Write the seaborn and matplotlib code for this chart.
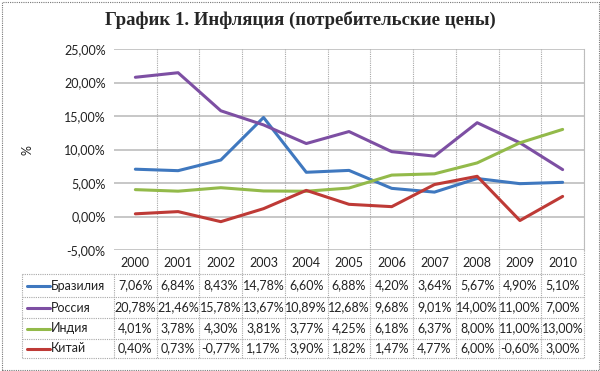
import numpy as np
import pandas as pd
import matplotlib
matplotlib.use("Agg")
import matplotlib.pyplot as plt
import matplotlib.transforms as mtransforms
import seaborn as sns

years = ["2000", "2001", "2002", "2003", "2004", "2005", "2006", "2007", "2008", "2009", "2010"]
countries = ["Бразилия", "Россия", "Индия", "Китай"]
brazil = [7.06, 6.84, 8.43, 14.78, 6.60, 6.88, 4.20, 3.64, 5.67, 4.90, 5.10]
russia = [20.78, 21.46, 15.78, 13.67, 10.89, 12.68, 9.68, 9.01, 14.00, 11.00, 7.00]
india = [4.01, 3.78, 4.30, 3.81, 3.77, 4.25, 6.18, 6.37, 8.00, 11.00, 13.00]
china = [0.40, 0.73, -0.77, 1.17, 3.90, 1.82, 1.47, 4.77, 6.00, -0.60, 3.00]
colors = ["#3F78BF", "#7D4FA3", "#93BA4A", "#BE3A36"]

series = [brazil, russia, india, china]
df = pd.DataFrame({
    "pos": list(range(len(years))) * len(countries),
    "value": [v for s in series for v in s],
    "country": [c for c in countries for _ in years],
})

sns.set_style("white")
plt.rcParams["font.family"] = ["Lato", "DejaVu Sans"]

W, H = 600, 371
fig = plt.figure(figsize=(6, 3.71), dpi=100)
L, R, T, B = 114, 584, 49, 250
ax = fig.add_axes([L / W, 1 - B / H, (R - L) / W, (B - T) / H])

def fmt(v):
    return ("%.2f%%" % v).replace(".", ",")

# grid
for yv in range(-5, 30, 5):
    ax.axhline(yv, color="#BDBDBD", lw=1.2, zorder=0)
for i in range(len(years)):
    ax.axvline(i + 0.5, color="#A8A8A8", lw=0.8, ls=(0, (1, 1)), zorder=0)

sns.lineplot(data=df, x="pos", y="value", hue="country", palette=colors,
             hue_order=countries, lw=2.2, legend=False, ax=ax, zorder=3)

ax.set_xlim(-0.5, len(years) - 0.5)
ax.set_ylim(-5, 25)
ax.set_yticks(range(-5, 30, 5))
ax.set_yticklabels([fmt(v) for v in range(-5, 30, 5)], fontsize=9, color="#222222")
ax.set_xticks([])
ax.set_xlabel("")
ax.set_ylabel("")
ax.tick_params(axis="y", length=0, pad=6)
for sp in ax.spines.values():
    sp.set_visible(False)
ax.spines["right"].set_visible(True)
ax.spines["right"].set_color("#BDBDBD")

def fy(py):
    return 1 - py / H

fig.text(27 / W, fy(150), "%", rotation=90, ha="center", va="center",
         fontsize=9, color="#222222")

# data table below the plot, in pixel rows
trans = mtransforms.blended_transform_factory(ax.transData, fig.transFigure)

row_edges = [250, 274, 297, 318, 339, 358]
tcol = "#A8A8A8"
# vertical lines of the table
for i in range(len(years)):
    ax.plot([i + 0.5, i + 0.5], [fy(250), fy(358)], transform=trans,
            color=tcol, lw=0.8, ls=(0, (1, 1)), clip_on=False)
ax.plot([-0.5, -0.5], [fy(274), fy(358)], transform=trans,
        color=tcol, lw=0.8, ls=(0, (1, 1)), clip_on=False)
fig.add_artist(plt.Line2D([22 / W, 22 / W], [fy(274), fy(358)], color=tcol,
                          lw=0.8, ls=(0, (1, 1))))
# horizontal lines of the table
for py in row_edges[1:]:
    fig.add_artist(plt.Line2D([22 / W, R / W], [fy(py), fy(py)], color=tcol,
                              lw=0.8, ls=(0, (1, 1))))

for i, yr in enumerate(years):
    ax.text(i, fy(263), yr, transform=trans, ha="center", va="center",
            fontsize=9, color="#222222", clip_on=False)

for r, (name, vals, c) in enumerate(zip(countries, series, colors)):
    yc = (row_edges[r + 1] + row_edges[r + 2]) / 2
    fig.add_artist(plt.Line2D([27 / W, 50 / W], [fy(yc), fy(yc)], color=c, lw=2.2))
    fig.text(51 / W, fy(yc), name, ha="left", va="center", fontsize=9, color="#222222")
    for i, v in enumerate(vals):
        ax.text(i, fy(yc), fmt(v), transform=trans, ha="center", va="center",
                fontsize=9, color="#222222", clip_on=False)

fig.text(0.5, fy(20), "График 1. Инфляция (потребительские цены)",
         ha="center", va="center", fontsize=13.5, fontweight="bold",
         family=["Liberation Serif", "DejaVu Serif"])

# dotted outer frame
fig.add_artist(plt.Rectangle((1.5 / W, 1.5 / H), (W - 3) / W, (H - 3) / H,
                             fill=False, ec="#777777", lw=0.8, ls=(0, (1, 1))))

fig.savefig("out.png", dpi=100, facecolor="white")
